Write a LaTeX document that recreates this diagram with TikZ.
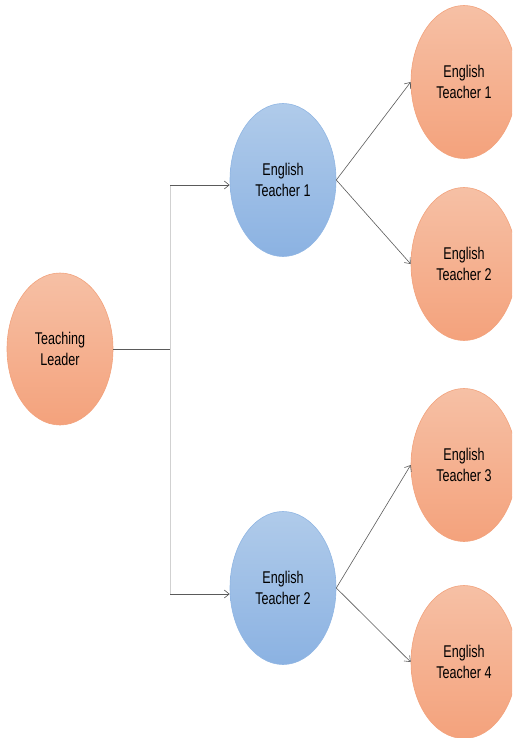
\documentclass[tikz,border=0pt]{standalone}
\usepackage{fontspec}
\setmainfont{Liberation Sans}[FakeStretch=0.74]
\usetikzlibrary{shapes.geometric,arrows.meta}
\definecolor{orTop}{HTML}{F6C0A5}
\definecolor{orBot}{HTML}{F4A27C}
\definecolor{orLine}{HTML}{F2A27C}
\definecolor{blTop}{HTML}{B0CBEA}
\definecolor{blBot}{HTML}{8BB2E2}
\definecolor{blLine}{HTML}{8FB5E3}
\definecolor{conn}{HTML}{5A5A5A}
\tikzset{
  oval/.style={ellipse, minimum width=106pt, minimum height=153pt, inner sep=0pt,
    align=center, font=\fontsize{17}{21}\selectfont, line width=0.6pt},
  orangeoval/.style={oval, draw=orLine, top color=orTop, bottom color=orBot},
  blueoval/.style={oval, draw=blLine, top color=blTop, bottom color=blBot},
  conn/.style={draw=conn, line width=0.6pt},
  arr/.style={conn, -{Straight Barb[length=5pt,width=8pt]}},
  trunk/.style={draw=black!18, line width=0.8pt}
}
\begin{document}
\begin{tikzpicture}[x=1pt,y=-1pt]
\useasboundingbox (0,0) rectangle (512,738);
\clip (0,0) rectangle (512,738);
\node[orangeoval, minimum height=152pt] (lead) at (60,349) {Teaching\\Leader};
\node[blueoval] (b1) at (283,180) {English\\Teacher 1};
\node[blueoval] (b2) at (283,588) {English\\Teacher 2};
\node[orangeoval] (o1) at (464,82) {English\\Teacher 1};
\node[orangeoval] (o2) at (464,264) {English\\Teacher 2};
\node[orangeoval] (o3) at (464,465) {English\\Teacher 3};
\node[orangeoval] (o4) at (464,662) {English\\Teacher 4};
\coordinate (j) at (170,349);
\coordinate (t1) at (170,185);
\coordinate (t2) at (170,594);
\draw[trunk] (t1) -- (t2);
\draw[conn] (lead.east) -- (j);
\draw[arr] (t1) -- (t1 -| b1.west);
\draw[arr] (t2) -- (t2 -| b2.west);
\draw[arr] (b1.east) -- (o1.west);
\draw[arr] (b1.east) -- (o2.west);
\draw[arr] (b2.east) -- (o3.west);
\draw[arr] (b2.east) -- (o4.west);
\end{tikzpicture}
\end{document}
